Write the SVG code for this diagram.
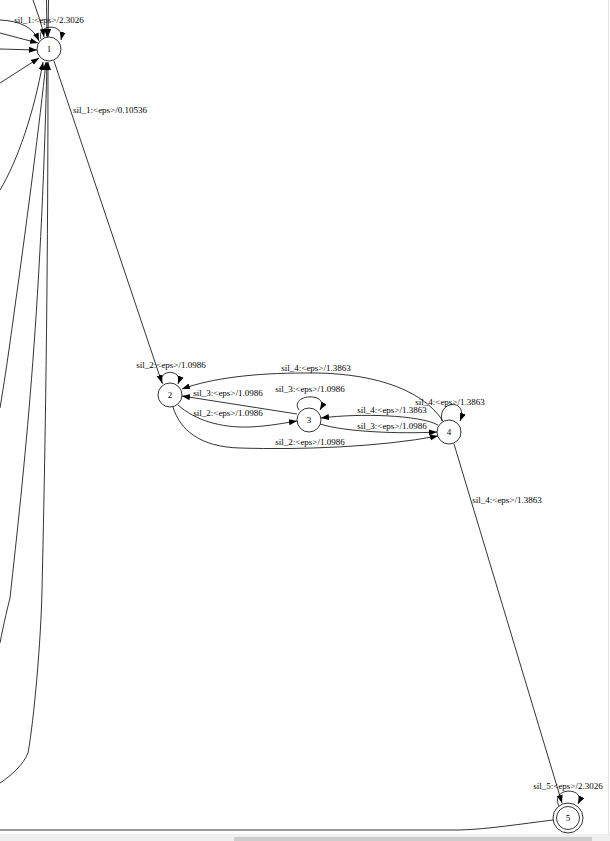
<svg xmlns="http://www.w3.org/2000/svg" width="610" height="841" viewBox="0 0 610 841">
<style>
.e{fill:none;stroke:#000;stroke-width:0.8}
.n{fill:#fff;stroke:#000;stroke-width:0.8}
.t{font-family:"Liberation Serif","Times New Roman",serif;font-size:9px;fill:#000;text-anchor:middle}
</style>
<defs>
<marker id="a" markerUnits="userSpaceOnUse" markerWidth="9" markerHeight="7" refX="8" refY="3" orient="auto">
<path d="M0,0 L8,3 L0,6 z" fill="#000"/>
</marker>
</defs>
<rect width="610" height="841" fill="#fff"/>
<g id="edges">
<!-- into node 1 from top -->
<path class="e" d="M33,0 C37,12 42,24 44,37" marker-end="url(#a)"/>
<path class="e" d="M46.5,0 L47,37" marker-end="url(#a)"/>
<path class="e" d="M48.5,0 L48,37" marker-end="url(#a)"/>
<!-- into node 1 from left -->
<path class="e" d="M0,20 C20,21 33,27 39,41" marker-end="url(#a)"/>
<path class="e" d="M0,33 L38,43" marker-end="url(#a)"/>
<path class="e" d="M0,49 L37,50" marker-end="url(#a)"/>
<path class="e" d="M0,83 L39,58" marker-end="url(#a)"/>
<!-- into node 1 from below -->
<path class="e" d="M0,190 C18,160 34,112 43,62" marker-end="url(#a)"/>
<path class="e" d="M0,408 C8,360 13,320 17,292 C27,220 40,120 46,62" marker-end="url(#a)"/>
<path class="e" d="M0,643 C4,622 8,606 10,598 C24,470 41,320 47,62" marker-end="url(#a)"/>
<path class="e" d="M0,783 C12,775 23,765 28,753 C34,720 41,640 42,590 C46,420 48,250 48,62" marker-end="url(#a)"/>
<!-- node 1 self loop -->
<path class="e" d="M41,39 C36,24 65,22 61,40" marker-end="url(#a)"/>
<!-- 1 -> 2 -->
<path class="e" d="M54,61 L162,383" marker-end="url(#a)"/>
<!-- 2 self loop -->
<path class="e" d="M163,384 C155,369 184,368 178,384" marker-end="url(#a)"/>
<!-- 4 -> 2 -->
<path class="e" d="M443,421 C420,386 365,372 305,373 C255,373 212,378 182,389" marker-end="url(#a)"/>
<!-- 3 -> 2 -->
<path class="e" d="M297,414 L182,396" marker-end="url(#a)"/>
<!-- 2 -> 3 -->
<path class="e" d="M178,405 C195,420 220,428 250,427 C270,426 284,423 297,421" marker-end="url(#a)"/>
<!-- 2 -> 4 -->
<path class="e" d="M173,407 C180,430 200,447 240,448 C300,450 380,447 438,436" marker-end="url(#a)"/>
<!-- 3 self loop -->
<path class="e" d="M299,410 C288,394 331,391 320,410" marker-end="url(#a)"/>
<!-- 4 -> 3 -->
<path class="e" d="M438,425 C420,415 360,413 321,418" marker-end="url(#a)"/>
<!-- 3 -> 4 -->
<path class="e" d="M320,424 C345,432 400,434 437,432" marker-end="url(#a)"/>
<!-- 4 self loop -->
<path class="e" d="M442,421 C437,400 469,398 460,421" marker-end="url(#a)"/>
<!-- 4 -> 5 -->
<path class="e" d="M454,444 L562,803" marker-end="url(#a)"/>
<!-- 5 self loop -->
<path class="e" d="M559,806 C549,787 587,786 578,804" marker-end="url(#a)"/>
<!-- 5 -> off left -->
<path class="e" d="M553,820 C520,824 490,829 460,830 L0,830"/>
</g>
<g id="labels">
<text class="t" x="49" y="23">sil_1:&lt;eps&gt;/2.3026</text>
<text class="t" x="110" y="113">sil_1:&lt;eps&gt;/0.10536</text>
<text class="t" x="171" y="368">sil_2:&lt;eps&gt;/1.0986</text>
<text class="t" x="316" y="371">sil_4:&lt;eps&gt;/1.3863</text>
<text class="t" x="228" y="396">sil_3:&lt;eps&gt;/1.0986</text>
<text class="t" x="228" y="416">sil_2:&lt;eps&gt;/1.0986</text>
<text class="t" x="310" y="392">sil_3:&lt;eps&gt;/1.0986</text>
<text class="t" x="310" y="445">sil_2:&lt;eps&gt;/1.0986</text>
<text class="t" x="392" y="413">sil_4:&lt;eps&gt;/1.3863</text>
<text class="t" x="392" y="429">sil_3:&lt;eps&gt;/1.0986</text>
<text class="t" x="450" y="405">sil_4:&lt;eps&gt;/1.3863</text>
<text class="t" x="507" y="503">sil_4:&lt;eps&gt;/1.3863</text>
<text class="t" x="568" y="789">sil_5:&lt;eps&gt;/2.3026</text>
</g>
<g id="node1"><circle class="n" cx="49" cy="49" r="12"/><text class="t" x="49" y="52">1</text></g>
<g id="node2"><circle class="n" cx="170" cy="395" r="12"/><text class="t" x="170" y="398">2</text></g>
<g id="node3"><circle class="n" cx="309" cy="420" r="12"/><text class="t" x="309" y="423">3</text></g>
<g id="node4"><circle class="n" cx="449" cy="432" r="12"/><text class="t" x="449" y="435">4</text></g>
<g id="node5"><circle class="n" cx="568" cy="818" r="15"/><circle class="n" cx="568" cy="818" r="11.5"/><text class="t" x="568" y="821">5</text></g>
<g id="scrollbars">
<line x1="608.5" y1="0" x2="608.5" y2="834" stroke="#e2e2e2" stroke-width="1"/>
<rect x="0" y="834" width="610" height="7" fill="#f0f0f0"/>
<rect x="234" y="837" width="358" height="4" fill="#cdcdcd"/>
</g>
</svg>
